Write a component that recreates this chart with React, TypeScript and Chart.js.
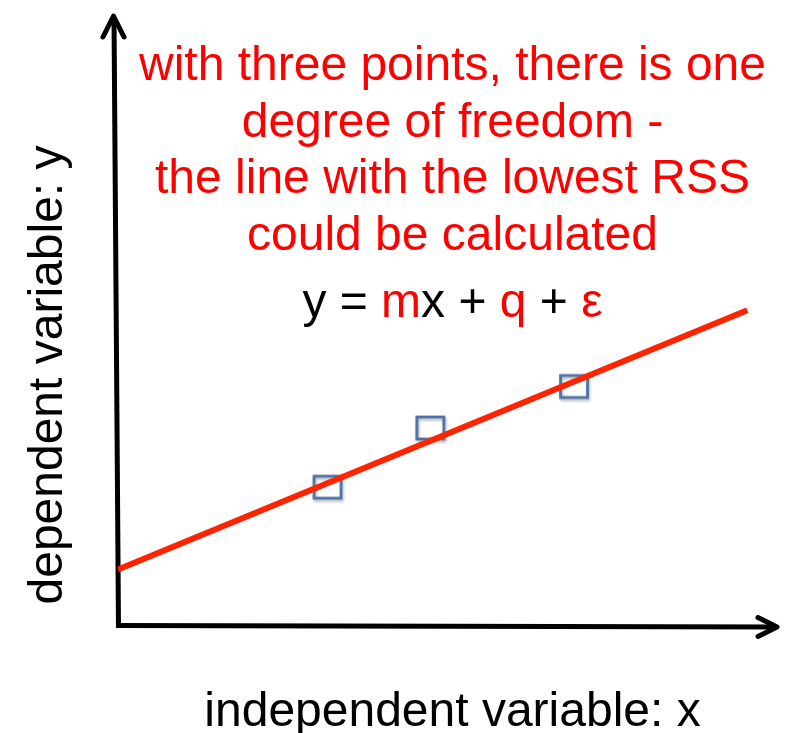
import React, { useEffect, useRef } from "react";
import { Chart, registerables } from "chart.js";

Chart.register(...registerables);

const titleLines = [
  "with three points, there is one",
  "degree of freedom -",
  "the line with the lowest RSS",
  "could be calculated",
];
const equationTexts = ["y = ", "m", "x + ", "q", " + ", "ε"];
const equationColors = ["#000000", "#ff0000", "#000000", "#ff0000", "#000000", "#ff0000"];
const xAxisLabel = "independent variable: x";
const yAxisLabel = "dependent variable: y";

const pointX = [3.18, 4.74, 6.92];
const pointY = [2.26, 3.23, 3.91];
const fitX = [0, 9.55];
const fitY = [0.91, 5.16];
const xRange = [0, 10];
const yRange = [0, 10];

const FONT = '48px "Liberation Sans", Arial, sans-serif';
const RED = "#ff0000";
const LINE_RED = "rgb(255, 36, 0)";
const SQUARE_BLUE = "#4a72a6";

function makeSquareImage(): HTMLCanvasElement {
  const c = document.createElement("canvas");
  c.width = 42;
  c.height = 38;
  const ctx = c.getContext("2d")!;
  ctx.shadowColor = "rgba(0,0,0,0.3)";
  ctx.shadowBlur = 3;
  ctx.shadowOffsetX = 1;
  ctx.shadowOffsetY = 2;
  ctx.strokeStyle = SQUARE_BLUE;
  ctx.lineWidth = 2.8;
  const w = 27;
  const h = 22;
  ctx.strokeRect(21 - w / 2, 19 - h / 2, w, h);
  return c;
}

const axesPlugin = {
  id: "arrowAxes",
  beforeDatasetsDraw(chart: any) {
    const { left, right, top, bottom } = chart.chartArea;
    const ctx = chart.ctx as CanvasRenderingContext2D;
    ctx.save();
    ctx.strokeStyle = "#000";
    ctx.lineWidth = 5;
    ctx.lineCap = "butt";
    // y axis shaft
    ctx.beginPath();
    ctx.moveTo(left + 0.5, bottom + 3);
    ctx.lineTo(left - 4, top + 2);
    ctx.stroke();
    // x axis shaft
    ctx.beginPath();
    ctx.moveTo(left - 2, bottom + 0.5);
    ctx.lineTo(right - 1, bottom + 2);
    ctx.stroke();
    // arrowheads
    ctx.lineCap = "round";
    ctx.lineJoin = "round";
    const yt = { x: left - 4.5, y: top + 1 };
    ctx.beginPath();
    ctx.moveTo(yt.x - 10.5, yt.y + 21);
    ctx.lineTo(yt.x, yt.y);
    ctx.lineTo(yt.x + 10.5, yt.y + 21);
    ctx.stroke();
    const xt = { x: right, y: bottom + 2 };
    ctx.beginPath();
    ctx.moveTo(xt.x - 19, xt.y - 9.5);
    ctx.lineTo(xt.x, xt.y);
    ctx.lineTo(xt.x - 19, xt.y + 9.5);
    ctx.stroke();
    ctx.restore();
  },
  afterDraw(chart: any) {
    const ctx = chart.ctx as CanvasRenderingContext2D;
    const { left, right, bottom } = chart.chartArea;
    const cx = (left + right) / 2 + 5;
    ctx.save();
    ctx.font = FONT;
    ctx.textBaseline = "alphabetic";
    // title lines
    ctx.fillStyle = RED;
    ctx.textAlign = "center";
    titleLines.forEach((line, i) => {
      ctx.fillText(line, cx, 80 + i * 56.7);
    });
    // equation
    ctx.textAlign = "left";
    const widths = equationTexts.map((t) => ctx.measureText(t).width);
    const total = widths.reduce((a, b) => a + b, 0);
    let x = cx - total / 2;
    equationTexts.forEach((t, i) => {
      ctx.fillStyle = equationColors[i];
      ctx.fillText(t, x, 317);
      x += widths[i];
    });
    // x axis label
    ctx.fillStyle = "#000";
    ctx.textAlign = "center";
    ctx.fillText(xAxisLabel, cx, bottom + 101);
    // y axis label
    ctx.translate(62, 375);
    ctx.rotate(-Math.PI / 2);
    ctx.fillText(yAxisLabel, 0, 0);
    ctx.restore();
  },
};

export default function App() {
  const ref = useRef<HTMLCanvasElement | null>(null);
  useEffect(() => {
    if (!ref.current) return;
    const square = makeSquareImage();
    const chart = new Chart(ref.current, {
      type: "scatter",
      data: {
        datasets: [
          {
            label: "fit",
            data: fitX.map((x, i) => ({ x, y: fitY[i] })),
            showLine: true,
            borderColor: LINE_RED,
            borderWidth: 6,
            borderCapStyle: "butt",
            pointRadius: 0,
            order: 0,
          },
          {
            label: "points",
            data: pointX.map((x, i) => ({ x, y: pointY[i] })),
            pointStyle: square,
            pointRadius: 14,
            showLine: false,
            order: 1,
          },
        ],
      },
      options: {
        responsive: false,
        animation: false,
        layout: { padding: { left: 118, top: 10, right: 10, bottom: 108 } },
        scales: {
          x: { type: "linear", min: xRange[0], max: xRange[1], display: false },
          y: { type: "linear", min: yRange[0], max: yRange[1], display: false },
        },
        plugins: {
          legend: { display: false },
          tooltip: { enabled: false },
          title: { display: false },
        },
      },
      plugins: [axesPlugin],
    } as any);
    return () => chart.destroy();
  }, []);
  return (
    <div style={{ position: "absolute", left: 0, top: 0, width: 792, height: 733, background: "#fff" }}>
      <canvas ref={ref} width={792} height={733} style={{ display: "block" }} />
    </div>
  );
}
